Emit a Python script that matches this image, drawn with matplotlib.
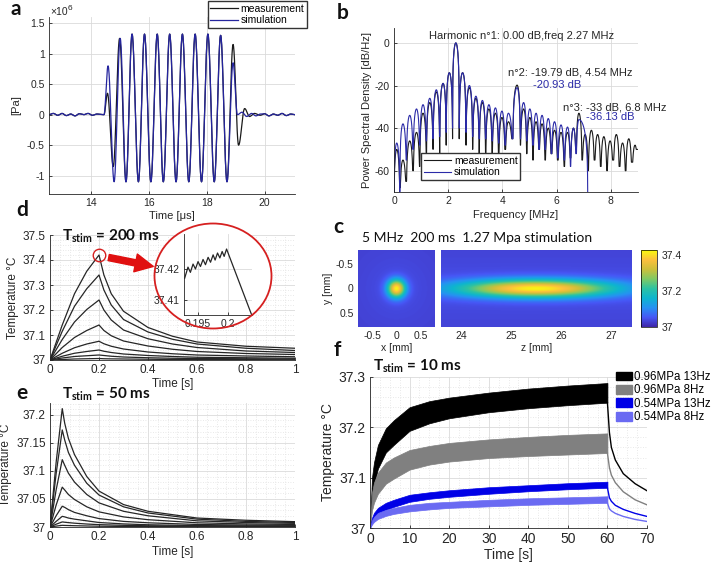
import numpy as np
import matplotlib
matplotlib.use("Agg")
import matplotlib.pyplot as plt
from matplotlib.colors import LinearSegmentedColormap
from matplotlib.patches import Ellipse, FancyArrowPatch, Patch
from matplotlib.ticker import MultipleLocator, FormatStrFormatter

plt.rcParams["font.family"] = ["Liberation Sans", "DejaVu Sans"]
plt.rcParams["axes.unicode_minus"] = False
plt.rcParams["mathtext.fontset"] = "custom"
plt.rcParams["mathtext.rm"] = "Lato"
plt.rcParams["mathtext.bf"] = "Lato:bold"

W, H = 714, 565
TXT = "#262626"

# ---------------- data ----------------
# a: waveform extrema, time [us], pressure [x1e6 Pa]
meas_t = [12.55, 12.70, 12.85, 13.00, 13.15, 13.30, 13.45, 13.60, 13.75, 13.90, 14.05, 14.20, 14.45,
          14.57, 14.77, 14.99, 15.21, 15.42, 15.64, 15.85, 16.07, 16.29, 16.50, 16.72, 16.94, 17.16,
          17.38, 17.60, 17.82, 18.04, 18.26, 18.48, 18.70, 18.91, 19.10, 19.31, 19.48, 19.65, 19.85,
          20.00, 20.15, 20.30, 20.45, 20.60, 20.75, 20.90, 21.05]
meas_p = [0.0, 0.02, -0.01, 0.02, -0.015, 0.01, -0.02, 0.015, 0.0, 0.02, -0.01, 0.01, 0.0,
          0.35, -0.85, 1.25, -1.10, 1.32, -1.10, 1.32, -1.10, 1.32, -1.10, 1.32, -1.10, 1.32,
          -1.10, 1.32, -1.10, 1.32, -1.10, 1.30, -1.10, 1.15, -0.50, 0.10, -0.03, 0.02, -0.01,
          0.015, -0.02, 0.01, -0.01, 0.02, -0.015, 0.01, 0.0]
sim_t = [12.55, 12.70, 12.85, 13.00, 13.15, 13.30, 13.45, 13.60, 13.75, 13.90, 14.05, 14.20, 14.45,
         14.59, 14.80, 15.01, 15.21, 15.42, 15.64, 15.85, 16.07, 16.29, 16.50, 16.72, 16.94, 17.16,
         17.38, 17.60, 17.82, 18.04, 18.26, 18.48, 18.70, 18.91, 19.06, 19.22, 19.38, 19.55, 19.70,
         19.85, 20.00, 20.15, 20.30, 20.45, 20.60, 20.75, 20.90, 21.05]
sim_p = [0.0, 0.02, -0.01, 0.02, -0.015, 0.01, -0.02, 0.015, 0.0, 0.02, -0.01, 0.01, 0.0,
         0.80, -1.10, 1.25, -1.10, 1.32, -1.10, 1.32, -1.10, 1.32, -1.10, 1.32, -1.10, 1.32,
         -1.10, 1.32, -1.10, 1.32, -1.10, 1.30, -1.10, 0.85, 0.0, 0.04, -0.03, 0.02, -0.02,
         0.01, 0.015, -0.02, 0.01, -0.01, 0.02, -0.015, 0.01, 0.0]

# b: spectrum lobes (centre MHz, peak dB) and null depths (start, between lobes, end)
sim_lobe_f = [0.10, 0.33, 0.58, 0.83, 1.07, 1.32, 1.56, 1.81, 2.04, 2.28, 2.53, 2.78, 3.02, 3.26, 3.50,
              3.74, 3.98, 4.22, 4.54, 4.78, 5.01, 5.24, 5.46, 5.69, 5.92, 6.16, 6.40, 6.62, 6.82]
sim_lobe_db = [-47, -38, -34, -31, -29, -26, -22, -19, -14, 0, -14, -20, -25, -27, -29,
               -30.5, -32, -33, -21, -28, -31, -33, -34, -35.5, -37, -38.5, -39.5, -40, -36]
sim_null_db = [-70, -70, -55, -50, -48, -46, -45, -44, -42, -40, -40, -42, -44, -45, -45,
               -46, -47, -48, -45, -45, -46, -48, -50, -50, -52, -54, -55, -58, -52, -78]
sim_f_end = 7.15
meas_lobe_f = sim_lobe_f + [7.05, 7.28, 7.51, 7.74, 7.97, 8.20, 8.43, 8.66, 8.89]
meas_lobe_db = [-50, -55, -46, -42, -33, -28, -23, -19, -14, 0, -14, -21, -26, -28, -31,
                -33, -35, -37, -19.8, -31, -35, -37, -38, -40, -41, -42, -42, -40, -33,
                -43, -41, -43, -44, -46, -43, -47, -45, -48]
meas_null_db = [-70, -68, -65, -60, -58, -55, -50, -52, -48, -45, -45, -48, -50, -52, -55,
                -52, -55, -50, -45, -48, -52, -55, -50, -55, -52, -55, -58, -54, -50, -55,
                -60, -55, -58, -60, -55, -58, -60, -56, -50]
meas_f_end = 9.0

# c: temperature field (deg C, mm)
base_temp = 37.03
peak_rise = 0.38
focus_sigma_xy = 0.13
focus_sigma_z = 1.1
focus_z = 25.5

# d: 200 ms stimulation, temperature rise over 37 C
d_time = [0, 0.05, 0.1, 0.15, 0.2, 0.22, 0.25, 0.3, 0.4, 0.5, 0.6, 0.8, 1.0]
d_rise = [
    [0, .14, .265, .355, .42, .34, .265, .195, .13, .095, .072, .055, .047],
    [0, .115, .215, .285, .34, .28, .22, .162, .112, .083, .064, .047, .038],
    [0, .082, .152, .202, .24, .20, .16, .12, .085, .064, .05, .036, .030],
    [0, .05, .09, .118, .14, .118, .097, .076, .056, .043, .034, .026, .022],
    [0, .027, .049, .064, .075, .065, .055, .044, .032, .025, .02, .016, .013],
    [0, .015, .027, .034, .04, .035, .03, .024, .018, .014, .011, .009, .007],
    [0, .008, .014, .017, .02, .018, .015, .012, .009, .007, .006, .005, .004],
    [0, .002, .004, .005, .006, .005, .0045, .004, .003, .002, .002, .0015, .001],
]
# d inset: zoom on the top curve near t = 0.2 s
inset_t = [0.19278, 0.19333, 0.19373, 0.19417, 0.19457, 0.19500, 0.19540, 0.19583, 0.19623, 0.19667,
           0.19707, 0.19750, 0.19783, 0.19823, 0.19862, 0.19900, 0.19933, 0.19973, 0.20390]
inset_temp = [37.4170, 37.4206, 37.4189, 37.4216, 37.4200, 37.4224, 37.4208, 37.4231, 37.4214, 37.4238,
              37.4222, 37.4246, 37.4229, 37.4252, 37.4236, 37.4257, 37.4241, 37.4265, 37.4050]

# e: 50 ms stimulation
e_time = [0, 0.025, 0.05, 0.06, 0.075, 0.1, 0.15, 0.2, 0.3, 0.4, 0.6, 0.8, 1.0]
e_rise = [
    [0, 0.115, 0.211, 0.185, 0.158, 0.129, 0.090, 0.064, 0.040, 0.028, 0.016, 0.012, 0.0095],
    [0, 0.095, 0.173, 0.155, 0.133, 0.110, 0.078, 0.057, 0.036, 0.025, 0.014, 0.010, 0.008],
    [0, 0.066, 0.120, 0.110, 0.096, 0.080, 0.058, 0.043, 0.028, 0.020, 0.011, 0.008, 0.0065],
    [0, 0.039, 0.071, 0.066, 0.058, 0.049, 0.036, 0.027, 0.018, 0.013, 0.0075, 0.0055, 0.0045],
    [0, 0.020, 0.037, 0.035, 0.031, 0.026, 0.020, 0.015, 0.010, 0.0075, 0.0045, 0.0035, 0.003],
    [0, 0.010, 0.019, 0.018, 0.016, 0.014, 0.011, 0.008, 0.0055, 0.004, 0.0025, 0.002, 0.0018],
    [0, 0.005, 0.009, 0.0085, 0.0078, 0.0068, 0.0053, 0.0042, 0.003, 0.0022, 0.0015, 0.0012, 0.001],
    [0, 0.0016, 0.003, 0.0028, 0.0026, 0.0023, 0.0018, 0.0014, 0.001, 0.0008, 0.0005, 0.0004, 0.0003],
]

# f: 10 ms stimulation, repeated for 60 s (band = min/max envelope), then decay
f_time = [0, 0.5, 1, 2, 4, 6, 10, 15, 20, 30, 40, 50, 60]
f_decay_time = [60, 60.5, 61, 62, 64, 67, 70]
f_labels = ["0.96MPa 13Hz", "0.96MPa 8Hz", "0.54MPa 13Hz", "0.54MPa 8Hz"]
f_colors = ["#000000", "#808080", "#0000e6", "#6a6af2"]
f_upper = [
    [37.0, 37.10, 37.13, 37.165, 37.198, 37.214, 37.24, 37.252, 37.259, 37.269, 37.277, 37.283, 37.288],
    [37.0, 37.07, 37.09, 37.11, 37.13, 37.14, 37.155, 37.163, 37.169, 37.176, 37.181, 37.185, 37.188],
    [37.0, 37.02, 37.03, 37.04, 37.05, 37.056, 37.066, 37.071, 37.075, 37.081, 37.085, 37.089, 37.092],
    [37.0, 37.015, 37.022, 37.03, 37.036, 37.04, 37.046, 37.05, 37.052, 37.056, 37.059, 37.061, 37.063],
]
f_lower = [
    [37.0, 37.06, 37.085, 37.118, 37.15, 37.165, 37.193, 37.208, 37.218, 37.23, 37.238, 37.244, 37.249],
    [37.0, 37.035, 37.05, 37.068, 37.088, 37.098, 37.116, 37.126, 37.132, 37.139, 37.143, 37.146, 37.149],
    [37.0, 37.01, 37.017, 37.027, 37.036, 37.042, 37.052, 37.058, 37.062, 37.068, 37.073, 37.077, 37.080],
    [37.0, 37.007, 37.012, 37.018, 37.024, 37.028, 37.033, 37.037, 37.04, 37.043, 37.046, 37.048, 37.050],
]
f_decay = [
    [37.249, 37.19, 37.16, 37.135, 37.108, 37.088, 37.074],
    [37.149, 37.12, 37.105, 37.09, 37.072, 37.056, 37.046],
    [37.080, 37.06, 37.053, 37.045, 37.037, 37.029, 37.023],
    [37.050, 37.038, 37.034, 37.029, 37.023, 37.017, 37.013],
]


# ---------------- helpers ----------------
def box(l, t, r, b):
    return [l / W, 1 - b / H, (r - l) / W, (b - t) / H]


def fxy(x, y):
    return (x / W, 1 - y / H)


def style(ax, size):
    for s in ("top", "right"):
        ax.spines[s].set_visible(False)
    for s in ("left", "bottom"):
        ax.spines[s].set_color(TXT)
        ax.spines[s].set_linewidth(0.6)
    ax.tick_params(direction="in", length=2.5, width=0.6, colors=TXT, labelsize=size, pad=3)
    ax.tick_params(which="minor", length=0)
    ax.grid(True, color="#dadada", lw=0.6)
    ax.set_axisbelow(True)


def minor_grid(ax, dx, dy):
    ax.xaxis.set_minor_locator(MultipleLocator(dx))
    ax.yaxis.set_minor_locator(MultipleLocator(dy))
    ax.grid(True, which="minor", color="#e2e2e2", lw=0.6, ls=(0, (1, 2)))


def cosine_path(tx, vx, n=24):
    ts, vs = [], []
    for i in range(len(tx) - 1):
        s = np.linspace(0, 1, n, endpoint=False)
        ts.append(tx[i] + (tx[i + 1] - tx[i]) * s)
        vs.append(vx[i] + (vx[i + 1] - vx[i]) * (1 - np.cos(np.pi * s)) / 2)
    ts.append([tx[-1]])
    vs.append([vx[-1]])
    return np.concatenate(ts), np.concatenate(vs)


def lobes(lobe_f, lobe_db, null_db, f_end):
    edges = [0.0] + [(a + b) / 2 for a, b in zip(lobe_f[:-1], lobe_f[1:])] + [f_end]
    fs, ds = [], []
    for k, c in enumerate(lobe_f):
        a, b = edges[k], edges[k + 1]
        f = np.linspace(a, b, 80)
        u = np.where(f < c, (c - f) / max(c - a, 1e-9), (f - c) / max(b - c, 1e-9))
        db = lobe_db[k] + 20 * np.log10(np.clip(np.cos(np.pi / 2 * np.clip(u, 0, 1)), 1e-6, None))
        floor = np.where(f < c, null_db[k], null_db[k + 1])
        fs.append(f)
        ds.append(np.maximum(db, floor))
    return np.concatenate(fs), np.concatenate(ds)


fig = plt.figure(figsize=(W / 100, H / 100), dpi=100)

# ---------------- a ----------------
ax = fig.add_axes(box(49, 17, 295, 194))
style(ax, 7.5)
t, p = cosine_path(meas_t, meas_p)
ax.plot(t, p, color="#1a1a1a", lw=0.9, label="measurement")
t, p = cosine_path(sim_t, sim_p)
ax.plot(t, p, color="#25259e", lw=0.9, label="simulation")
ax.set_xlim(12.55, 21.05)
ax.set_ylim(-1.3, 1.6)
ax.set_xticks([14, 16, 18, 20])
ax.set_yticks([-1, -0.5, 0, 0.5, 1, 1.5])
ax.yaxis.set_major_formatter(FormatStrFormatter("%g"))
ax.set_xlabel("Time [\u03bcs]", fontsize=8, color=TXT, labelpad=2)
ax.set_ylabel("[Pa]", fontsize=8, color=TXT, labelpad=4)
fig.text(*fxy(50, 12), "\u00d710", fontsize=7.5, color=TXT, va="center")
fig.text(*fxy(68, 8), "6", fontsize=6, color=TXT, va="center")
ax.legend(loc="upper right", bbox_to_anchor=fxy(307, 1), bbox_transform=fig.transFigure,
          fontsize=7.5, frameon=True, fancybox=False, edgecolor="#333333", framealpha=1,
          handlelength=2.6, handletextpad=0.3, labelspacing=0.15, borderpad=0.25, borderaxespad=0)

# ---------------- b ----------------
ax = fig.add_axes(box(394, 28, 638, 192))
style(ax, 7.5)
f, d = lobes(meas_lobe_f, meas_lobe_db, meas_null_db, meas_f_end)
ax.plot(f, d, color="#1a1a1a", lw=0.8, label="measurement")
f, d = lobes(sim_lobe_f, sim_lobe_db, sim_null_db, sim_f_end)
ax.plot(f, d, color="#2b2ba8", lw=0.8, label="simulation")
ax.set_xlim(0, 9)
ax.set_ylim(-70, 7)
ax.set_xticks([0, 2, 4, 6, 8])
ax.set_yticks([-60, -40, -20, 0])
ax.set_xlabel("Frequency [MHz]", fontsize=8, color=TXT, labelpad=3)
ax.set_ylabel("Power Spectral Density [dB/Hz]", fontsize=8, color=TXT, labelpad=2)
ax.text(1.28, 3.3, "Harmonic n\u00b01: 0.00 dB,freq 2.27 MHz", fontsize=8, color=TXT, va="center")
ax.text(4.2, -14.1, "n\u00b02: -19.79 dB, 4.54 MHz", fontsize=8, color=TXT, va="center")
ax.text(5.12, -19.8, "-20.93 dB", fontsize=8, color="#2b2ba8", va="center")
ax.text(6.23, -30.1, "n\u00b03: -33 dB, 6.8 MHz", fontsize=8, color=TXT, va="center")
ax.text(7.08, -34.8, "-36.13 dB", fontsize=8, color="#2b2ba8", va="center")
ax.legend(loc="lower left", bbox_to_anchor=fxy(421, 180), bbox_transform=fig.transFigure,
          fontsize=7.5, frameon=True, fancybox=False, edgecolor="#333333", framealpha=1,
          handlelength=2.6, handletextpad=0.3, labelspacing=0.15, borderpad=0.25, borderaxespad=0)

# ---------------- c ----------------
parula = LinearSegmentedColormap.from_list("parula", [
    (0.0, (0.2422, 0.1504, 0.6603)), (0.125, (0.2772, 0.3397, 0.9630)),
    (0.25, (0.1500, 0.5700, 0.9500)), (0.375, (0.0500, 0.7100, 0.8100)),
    (0.5, (0.1700, 0.7600, 0.6400)), (0.625, (0.5000, 0.7900, 0.3900)),
    (0.75, (0.8000, 0.7500, 0.2300)), (0.875, (0.9900, 0.7500, 0.2400)),
    (1.0, (0.9763, 0.9831, 0.0538))])
vmin, vmax = 37.0, 37.43

gx = np.linspace(-0.8, 0.8, 200)
X, Y = np.meshgrid(gx, gx)
R2 = X ** 2 + Y ** 2
field_xy = base_temp + 0.012 * np.exp(-R2 / 0.5) + peak_rise * np.exp(-R2 / (2 * focus_sigma_xy ** 2))
ax = fig.add_axes(box(358, 250, 435, 327))
ax.imshow(field_xy, cmap=parula, vmin=vmin, vmax=vmax, extent=[-0.8, 0.8, 0.8, -0.8], aspect="auto")
for s in ax.spines.values():
    s.set_visible(False)
ax.tick_params(length=0, labelsize=7.5, colors=TXT, pad=3)
ax.set_xticks([-0.5, 0, 0.5])
ax.set_yticks([-0.5, 0, 0.5])
ax.xaxis.set_major_formatter(FormatStrFormatter("%g"))
ax.yaxis.set_major_formatter(FormatStrFormatter("%g"))
ax.set_xlabel("x [mm]", fontsize=7.5, color=TXT, labelpad=1)
ax.set_ylabel("y [mm]", fontsize=7.5, color=TXT, labelpad=2)

gz = np.linspace(23.6, 27.42, 400)
Z, YZ = np.meshgrid(gz, gx)
field_zy = (base_temp + 0.012 * np.exp(-YZ ** 2 / 0.5)
            + peak_rise * np.exp(-(Z - focus_z) ** 2 / (2 * focus_sigma_z ** 2)
                                 - YZ ** 2 / (2 * focus_sigma_xy ** 2)))
ax = fig.add_axes(box(441, 250, 632, 327))
im = ax.imshow(field_zy, cmap=parula, vmin=vmin, vmax=vmax, extent=[23.6, 27.42, 0.8, -0.8], aspect="auto")
for s in ax.spines.values():
    s.set_visible(False)
ax.tick_params(length=0, labelsize=7.5, colors=TXT, pad=3)
ax.set_xticks([24, 25, 26, 27])
ax.set_yticks([])
ax.set_xlabel("z [mm]", fontsize=7.5, color=TXT, labelpad=1)

cax = fig.add_axes(box(641, 250, 657, 327))
cb = fig.colorbar(im, cax=cax, ticks=[37, 37.2, 37.4])
cb.ax.set_yticklabels(["37", "37.2", "37.4"])
cb.ax.tick_params(length=0, labelsize=7.5, colors=TXT, pad=3)
cb.outline.set_linewidth(0.5)
fig.text(*fxy(362, 238), "5 MHz  200 ms  1.27 Mpa stimulation", family="Lato", fontsize=10,
         color="#111111", va="center")

# ---------------- d ----------------
ax_d = fig.add_axes(box(50, 235, 295, 360))
style(ax_d, 8.5)
minor_grid(ax_d, 0.04, 0.02)
for row in d_rise:
    ax_d.plot(d_time, 37 + np.array(row), color="#262626", lw=0.9)
ax_d.set_xlim(0, 1)
ax_d.set_ylim(37, 37.5)
ax_d.set_xticks([0, 0.2, 0.4, 0.6, 0.8, 1])
ax_d.set_yticks([37, 37.1, 37.2, 37.3, 37.4, 37.5])
ax_d.xaxis.set_major_formatter(FormatStrFormatter("%g"))
ax_d.yaxis.set_major_formatter(FormatStrFormatter("%g"))
ax_d.set_xlabel("Time [s]", fontsize=8.5, color=TXT, labelpad=1)
ax_d.set_ylabel("Temperature \u00b0C", fontsize=8.5, color=TXT, labelpad=3)
ax_d.plot([0.2], [37.42], "o", ms=9, mfc="none", mec="#d62020", mew=1.0)
fig.text(*fxy(62, 236), r"$\mathbf{T_{stim}}$ = 200 ms", family="Lato", fontweight="bold",
         fontsize=11, color="#111111", va="center")

ell = Ellipse(fxy(213, 276), 117 / W, 105 / H, transform=fig.transFigure,
              facecolor="white", edgecolor="none", zorder=1)
fig.patches.append(ell)
ax_in = fig.add_axes(box(184, 234, 252, 315))
ax_in.set_zorder(2)
ax_in.patch.set_alpha(0)
style(ax_in, 7.5)
ax_in.plot(inset_t, inset_temp, color="#262626", lw=0.9)
ax_in.set_xlim(0.19267, 0.20395)
ax_in.set_ylim(37.405, 37.4314)
ax_in.set_xticks([0.195, 0.2])
ax_in.set_yticks([37.41, 37.42])
ax_in.set_xticklabels(["0.195", "0.2"])
ax_in.set_yticklabels(["37.41", "37.42"])
ring = Ellipse(fxy(213, 276), 117 / W, 105 / H, transform=fig.transFigure,
               facecolor="none", edgecolor="#d62020", lw=1.3, zorder=3)
fig.patches.append(ring)
arrow = FancyArrowPatch(fxy(106, 257), fxy(156, 267), transform=fig.transFigure,
                        arrowstyle="simple,head_length=1.3,head_width=1.3,tail_width=0.45",
                        mutation_scale=10, color="#e01010", zorder=3)
fig.patches.append(arrow)

# ---------------- e ----------------
ax = fig.add_axes(box(50, 403, 295, 527))
style(ax, 8.5)
minor_grid(ax, 0.04, 0.01)
for row in e_rise:
    ax.plot(e_time, 37 + np.array(row), color="#262626", lw=0.9)
ax.set_xlim(0, 1)
ax.set_ylim(37, 37.221)
ax.set_xticks([0, 0.2, 0.4, 0.6, 0.8, 1])
ax.set_yticks([37, 37.05, 37.1, 37.15, 37.2])
ax.xaxis.set_major_formatter(FormatStrFormatter("%g"))
ax.yaxis.set_major_formatter(FormatStrFormatter("%g"))
ax.set_xlabel("Time [s]", fontsize=8.5, color=TXT, labelpad=2)
ax.set_ylabel("Temperature \u00b0C", fontsize=8.5, color=TXT, labelpad=3)
fig.text(*fxy(62, 394), r"$\mathbf{T_{stim}}$ = 50 ms", family="Lato", fontweight="bold",
         fontsize=11, color="#111111", va="center")

# ---------------- f ----------------
ax = fig.add_axes(box(370, 377, 647, 528))
style(ax, 10)
minor_grid(ax, 2.5, 0.02)
handles = []
for lo, up, dec, c, lab in zip(f_lower, f_upper, f_decay, f_colors, f_labels):
    ax.fill_between(f_time, lo, up, color=c, lw=0.5)
    ax.plot(f_decay_time, dec, color=c, lw=1.0)
    handles.append(Patch(facecolor=c, edgecolor=c, label=lab))
ax.set_xlim(0, 70)
ax.set_ylim(37, 37.3)
ax.set_xticks(range(0, 71, 10))
ax.set_yticks([37, 37.1, 37.2, 37.3])
ax.yaxis.set_major_formatter(FormatStrFormatter("%g"))
ax.set_xlabel("Time [s]", fontsize=10, color=TXT, labelpad=1)
ax.set_ylabel("Temperature \u00b0C", fontsize=10, color=TXT, labelpad=3)
ax.legend(handles=handles, loc="upper right", bbox_to_anchor=fxy(711, 371),
          bbox_transform=fig.transFigure, fontsize=8.3, frameon=False, handlelength=1.4,
          handleheight=0.8, handletextpad=0.2, labelspacing=0.12, borderpad=0, borderaxespad=0)
fig.text(*fxy(373, 366), r"$\mathbf{T_{stim}}$ = 10 ms", family="Lato", fontweight="bold",
         fontsize=11, color="#111111", va="center")

# panel letters
for letter, x, y in [("a", 16, 9), ("b", 343, 13), ("c", 338, 227),
                     ("d", 22, 210), ("e", 22, 393), ("f", 337, 350)]:
    fig.text(*fxy(x, y), letter, family="Lato", fontweight="bold", fontsize=15,
             color="#111111", ha="center", va="center")

fig.savefig("out.png", dpi=100)
